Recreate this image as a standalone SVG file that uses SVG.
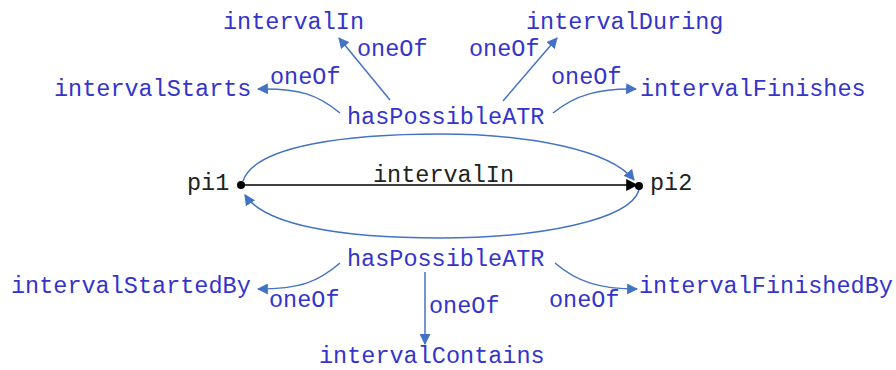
<svg xmlns="http://www.w3.org/2000/svg" width="896" height="370" viewBox="0 0 896 370">
<defs>
<style>
text{font-family:"Liberation Mono","Courier New",monospace;font-size:23.5px}
.b{fill:#3434cc}
.k{fill:#222}
.c{fill:none;stroke:#4472c4;stroke-width:1.5}
</style>
<marker id="ab" viewBox="0 0 10 10" refX="9" refY="5" markerWidth="11" markerHeight="11" markerUnits="userSpaceOnUse" orient="auto"><path d="M0,0L10,5L0,10z" fill="#4472c4"/></marker>
<marker id="ak" viewBox="0 0 10 10" refX="9" refY="5" markerWidth="12" markerHeight="12" markerUnits="userSpaceOnUse" orient="auto"><path d="M0,0L10,5L0,10z" fill="#000"/></marker>
</defs>
<rect width="896" height="370" fill="#fff"/>
<g id="connectors">
<path class="c" d="M390,100 L339,38" marker-end="url(#ab)"/>
<path class="c" d="M503,101 L557,38" marker-end="url(#ab)"/>
<path class="c" d="M340,113 C318,95 300,88 258,89" marker-end="url(#ab)"/>
<path class="c" d="M553,113 C575,95 600,88 636,89" marker-end="url(#ab)"/>
<path class="c" d="M340,263 C318,282 300,289 258,289" marker-end="url(#ab)"/>
<path class="c" d="M555,263 C577,282 600,289 637,289" marker-end="url(#ab)"/>
<path class="c" d="M425,272 L425,344" marker-end="url(#ab)"/>
<path class="c" d="M243,181 C255,145 350,134 440,134 C530,134 610,150 634,180" marker-end="url(#ab)"/>
<path class="c" d="M639,190 C630,220 540,238 440,238 C340,238 265,225 245,195" marker-end="url(#ab)"/>
<path d="M241,185 L637,185" stroke="#000" stroke-width="1.5" marker-end="url(#ak)"/>
</g>
<g id="pi1"><circle cx="241" cy="185" r="4" fill="#000"/><text class="k" x="187" y="190">pi1</text></g>
<g id="pi2"><circle cx="639" cy="186" r="4" fill="#000"/><text class="k" x="650" y="190">pi2</text></g>
<g id="edge-intervalIn"><text class="k" x="373" y="182">intervalIn</text></g>
<g id="hasPossibleATR-top"><text class="b" x="347" y="124">hasPossibleATR</text></g>
<g id="hasPossibleATR-bottom"><text class="b" x="347" y="266">hasPossibleATR</text></g>
<g id="intervalIn"><text class="b" x="223" y="29">intervalIn</text></g>
<g id="intervalDuring"><text class="b" x="526" y="29">intervalDuring</text></g>
<g id="intervalStarts"><text class="b" x="54" y="96">intervalStarts</text></g>
<g id="intervalFinishes"><text class="b" x="640" y="96">intervalFinishes</text></g>
<g id="intervalStartedBy"><text class="b" x="11" y="293">intervalStartedBy</text></g>
<g id="intervalFinishedBy"><text class="b" x="639" y="293">intervalFinishedBy</text></g>
<g id="intervalContains"><text class="b" x="319" y="363">intervalContains</text></g>
<g id="labels">
<text class="b" x="357" y="56">oneOf</text>
<text class="b" x="469" y="56">oneOf</text>
<text class="b" x="270" y="84">oneOf</text>
<text class="b" x="551" y="84">oneOf</text>
<text class="b" x="269" y="307">oneOf</text>
<text class="b" x="429" y="313">oneOf</text>
<text class="b" x="549" y="307">oneOf</text>
</g>
</svg>
